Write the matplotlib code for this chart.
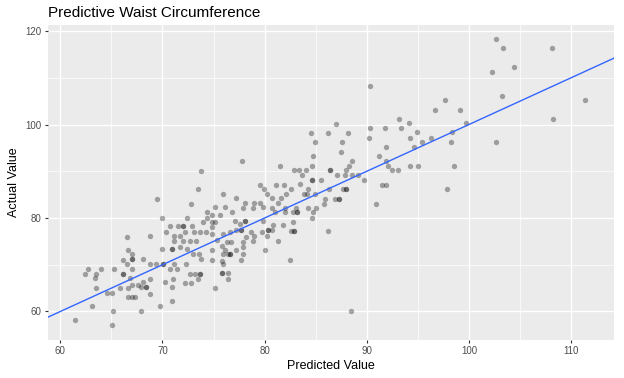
# -*- coding: utf-8 -*-
"""
Predicted vs actual waist circumference (ggplot-like look)
"""

import numpy as np
import matplotlib
matplotlib.use('Agg')
import matplotlib.pyplot as plt

plt.rcParams['font.family'] = ['Liberation Sans', 'DejaVu Sans']

#------------------------------------------------------------------------------
# data (predicted, actual)
pred_hi   = [102.6, 103.3, 108.1, 102.3, 104.4, 103.2, 111.4, 108.2, 102.6]
actual_hi = [118.3, 116.3, 116.3, 111.2, 112.3, 106.2, 105.2, 101.2, 96.2]

pred_90   = [90.3, 97.7, 96.7, 99.1, 93.2, 94.1, 90.3, 91.75, 93.35, 90.2, 94.9,
             94.2, 98.3, 96.3, 95.4, 98.2, 91.9, 94.65, 99.7,
             91.2, 91.85, 92.1, 92.5, 93.1, 94.2, 95.05, 98.5, 91.5, 91.85,
             97.9, 90.9]
actual_90 = [108.3, 105.2, 103.2, 103.2, 101.2, 100.3, 99.2, 99.2, 99.2, 97.2, 98.3,
             97.2, 98.3, 97.2, 96.2, 96.2, 95.2, 95.2, 100.3,
             93.2, 92.3, 91.2, 90.2, 90.2, 91.1, 91.1, 91.1, 87.15, 87.15,
             86.1, 83.1]

pred_85   = [87.0, 84.5, 86.2, 88.2, 84.9, 87.6, 87.5, 84.7, 88.6,
             84.6, 82.85, 83.4, 84.05, 83.7, 84.6, 85.5, 86.4, 87.1, 88.0, 88.3,
             87.9, 88.6, 89.1, 89.7, 83.5, 87.7, 88.0, 86.3, 84.25, 83.9, 84.1,
             84.9, 85.95, 86.9, 87.3, 85.85, 85.0, 84.25, 83.05, 82.8, 83.2,
             84.7, 84.6, 82.8, 82.6, 82.85, 86.2, 82.6, 88.5, 82.5,
             84.6, 86.4, 87.3, 82.85, 83.2, 88.0]
actual_85 = [100.2, 98.2, 98.2, 98.2, 96.2, 96.2, 94.2, 93.2, 92.2,
             91.1, 90.2, 90.2, 90.2, 89.1, 88.1, 88.1, 90.2, 89.1, 90.2, 91.1,
             89.1, 89.1, 89.1, 88.1, 87.2, 86.1, 86.1, 86.1, 86.1, 85.1, 85.1,
             85.1, 84.1, 84.1, 84.1, 83.1, 82.1, 82.1, 82.1, 81.3, 81.3,
             81.2, 80.1, 79.1, 77.2, 77.2, 77.2, 86.2, 60.1, 71.1,
             88.1, 90.2, 84.1, 77.2, 81.3, 86.1]

pred_78   = [77.8, 81.5, 79.5, 79.9, 81.1, 81.9, 75.9, 77.2, 80.2, 82.1, 80.7, 81.6,
             78.05, 79.0, 79.5, 79.8, 80.7, 81.3, 82.0, 75.1, 76.1, 77.9, 78.9,
             76.85, 75.6, 74.8, 82.0, 81.0, 74.8, 75.1, 77.1, 77.6, 78.05, 79.8,
             80.8, 81.8, 80.3, 80.7, 79.7, 78.7, 77.2, 77.7, 76.6, 75.9, 74.8,
             74.8, 79.0, 80.2, 78.2, 75.3, 76.3, 76.75, 75.8, 77.9, 78.9, 81.3,
             74.8, 76.1, 77.2, 77.9, 75.9, 76.4, 76.6, 77.9, 80.0, 74.8, 75.8,
             77.7, 75.9, 75.8, 76.4, 76.4, 75.1,
             76.6, 77.7, 78.05, 75.8, 80.3]
actual_78 = [92.1, 91.2, 87.15, 86.1, 87.15, 87.15, 85.1, 84.2, 85.1, 85.1, 84.2, 84.2,
             83.2, 83.2, 83.2, 82.35, 82.2, 83.2, 82.2, 82.35, 82.35, 82.2, 82.2,
             81.2, 80.6, 80.6, 81.2, 81.2, 79.1, 79.1, 79.3, 78.7, 79.3, 79.3,
             78.4, 78.4, 77.4, 77.4, 77.1, 77.1, 77.5, 77.5, 77.0, 76.6, 78.1,
             76.6, 76.1, 76.1, 75.9, 75.2, 74.8, 74.8, 74.1, 74.8, 75.1, 75.1,
             73.2, 73.2, 73.2, 73.8, 72.2, 72.2, 72.2, 72.4, 73.1, 71.1, 70.9,
             71.1, 70.2, 68.2, 68.2, 67.0, 65.1,
             72.2, 77.5, 79.3, 68.2, 77.4]

pred_70   = [73.75, 73.45, 72.8, 69.5, 70.0, 68.8, 72.4, 74.4, 74.4, 70.75, 71.5,
             72.0, 72.9, 70.3, 72.2, 73.1, 73.7, 74.3, 74.0, 71.7, 71.1, 72.7,
             71.1, 72.0, 73.3,
             70.0, 70.9, 71.7, 72.4, 73.0, 73.6, 73.8, 67.0, 67.0, 68.1, 68.75,
             69.4, 70.1, 67.0, 70.7, 71.1, 71.4, 72.35, 72.7, 73.2, 73.65, 73.5,
             71.0, 70.2, 68.75, 68.1, 67.6, 67.9, 68.4, 67.0, 67.0, 67.3, 68.75,
             70.9, 72.2, 72.8, 70.9, 69.8, 67.85,
             72.0, 67.0, 68.4, 70.9, 73.65, 70.1]
actual_70 = [90.1, 86.1, 83.1, 84.15, 80.1, 76.1, 80.1, 81.2, 80.1, 78.2, 78.2,
             78.2, 78.2, 77.0, 77.0, 77.0, 77.0, 77.0, 79.1, 76.1, 76.1, 75.1,
             75.1, 75.1, 75.1,
             73.3, 73.3, 73.8, 73.3, 72.4, 72.4, 71.3, 72.4, 71.3, 71.2, 70.2,
             70.2, 70.2, 69.1, 69.1, 70.2, 69.1, 70.2, 68.1, 68.1, 68.1, 67.0,
             67.0, 66.3, 67.0, 66.3, 65.6, 65.2, 65.2, 65.6, 63.1, 63.1, 63.8,
             65.2, 66.2, 66.2, 62.2, 61.1, 60.1,
             78.2, 71.3, 65.2, 73.3, 68.1, 70.2]

pred_lo   = [66.6, 66.1, 66.5, 62.7, 64.0, 65.3, 62.4, 63.5, 66.1, 63.4, 66.8,
             63.5, 64.6, 65.1, 65.8, 66.6, 66.6, 63.1, 65.2, 61.4, 65.1, 66.5,
             66.1]
actual_lo = [73.1, 71.1, 70.1, 69.1, 69.1, 69.1, 68.1, 68.1, 68.1, 67.1, 67.1,
             65.1, 64.0, 64.0, 65.1, 65.1, 63.1, 61.1, 60.1, 58.1, 57.1, 76.0,
             68.1]

predicted = np.array(pred_hi + pred_90 + pred_85 + pred_78 + pred_70 + pred_lo)
actual    = np.array(actual_hi + actual_90 + actual_85 + actual_78 + actual_70 + actual_lo)

# fitted line (actual on predicted) -> identity
line_intercept = 0.0
line_slope     = 1.0

x_ticks = [60, 70, 80, 90, 100, 110]
y_ticks = [60, 80, 100, 120]

#------------------------------------------------------------------------------
fig = plt.figure(figsize=(6.24, 3.78), dpi=100)
ax = fig.add_axes([0.077, 0.1005, 0.907, 0.8335])

ax.set_facecolor('#EBEBEB')
for s in ax.spines.values():
    s.set_visible(False)

ax.scatter(predicted, actual, s=15, color='black', alpha=0.33, linewidths=0, zorder=3)
ax.axline((0, line_intercept), slope=line_slope, color='#3366FF', lw=1.0, zorder=4)

ax.set_xlim(58.8, 114.2)
ax.set_ylim(53.9, 121.3)
ax.set_xticks(x_ticks)
ax.set_yticks(y_ticks)
ax.set_xticks(np.arange(65, 115, 10), minor=True)
ax.set_yticks(np.arange(70, 120, 20), minor=True)
ax.grid(which='major', color='white', lw=1.0, zorder=0)
ax.grid(which='minor', color='white', lw=0.5, zorder=0)
ax.set_axisbelow(True)
ax.tick_params(which='major', length=2.5, width=0.8, color='#333333',
               labelcolor='#4D4D4D', labelsize=7, pad=2)
ax.tick_params(which='minor', length=0)

ax.set_xlabel('Predicted Value', fontsize=9, color='black', labelpad=3)
ax.set_ylabel('Actual Value', fontsize=9, color='black', labelpad=4)
ax.set_title('Predictive Waist Circumference', fontsize=11, loc='left', pad=6)

fig.savefig('out.png', dpi=100)
